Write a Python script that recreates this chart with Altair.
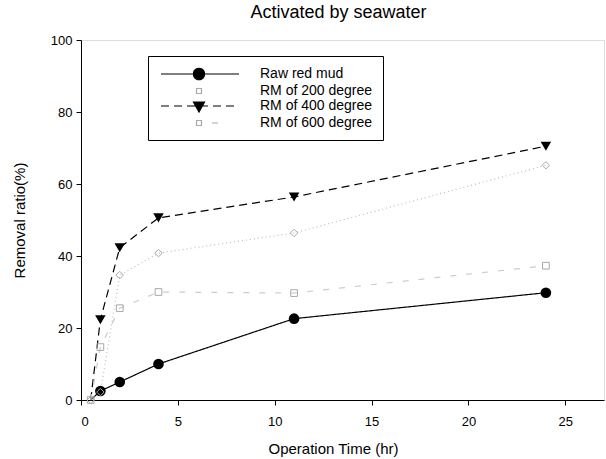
import altair as alt
import pandas as pd

series = ["Raw red mud", "RM of 200 degree", "RM of 400 degree", "RM of 600 degree"]
time_hr = [0.5, 1, 2, 4, 11, 24]
raw = [0, 2.5, 5.0, 10.0, 22.6, 29.8]
rm200 = [0, 2.2, 34.7, 40.8, 46.4, 65.2]
rm400 = [0, 22.3, 42.3, 50.6, 56.4, 70.5]
rm600 = [0, 14.7, 25.5, 30.0, 29.7, 37.3]

x_ticks = [0, 5, 10, 15, 20, 25]
y_ticks = [0, 20, 40, 60, 80, 100]

rows = []
for name, vals in zip(series, [raw, rm200, rm400, rm600]):
    for t, v in zip(time_hr, vals):
        rows.append({"series": name, "time": t, "value": v})
df = pd.DataFrame(rows)

FONT = "Liberation Sans"
BLACK = "#000000"
GRAY_MARK = "#a8a8a8"

# line styles per series (the line layer uses the data-derived, alphabetical domain)
line_color_of = {series[0]: BLACK, series[1]: "#bdbdbd", series[2]: BLACK, series[3]: "#cccccc"}
dash_of = {series[0]: [1, 0], series[1]: [1, 3], series[2]: [8, 5], series[3]: [6, 10]}
sorted_series = sorted(series)

x_enc = alt.X("time:Q", scale=alt.Scale(domain=[0, 27], nice=False),
              axis=alt.Axis(values=x_ticks, title="Operation Time (hr)", grid=False,
                            tickSize=5, labelPadding=10, titlePadding=13,
                            labelFontSize=13, titleFontSize=15, titleFontWeight="normal",
                            domainColor=BLACK, tickColor=BLACK, labelColor=BLACK,
                            titleColor=BLACK, titleX=252))
y_enc = alt.Y("value:Q", scale=alt.Scale(domain=[0, 100], nice=False),
              axis=alt.Axis(values=y_ticks, title="Removal ratio(%)", grid=False,
                            tickSize=5, labelPadding=4, titlePadding=23,
                            labelFontSize=13, titleFontSize=15, titleFontWeight="normal",
                            domainColor=BLACK, tickColor=BLACK, labelColor=BLACK,
                            titleColor=BLACK))

base = alt.Chart(df)

lines = base.mark_line(strokeWidth=1.2).encode(
    x=x_enc, y=y_enc,
    color=alt.Color("series:N", scale=alt.Scale(range=[line_color_of[s] for s in sorted_series]), legend=None),
    strokeDash=alt.StrokeDash("series:N", scale=alt.Scale(range=[dash_of[s] for s in sorted_series]), legend=None),
    detail="series:N",
)

pt_raw = base.transform_filter(
    (alt.datum.series == series[0]) & (alt.datum.time >= 1)
).mark_point(shape="circle", filled=True, size=113, color=BLACK, opacity=1).encode(x="time:Q", y="value:Q")

pt_400 = base.transform_filter(
    (alt.datum.series == series[2]) & (alt.datum.time >= 1)
).mark_point(shape="triangle-down", filled=True, size=110, color=BLACK, opacity=1).encode(x="time:Q", y="value:Q")

pt_200 = base.transform_filter(
    alt.datum.series == series[1]
).mark_point(shape="diamond", filled=False, size=55, stroke=GRAY_MARK, strokeWidth=1, opacity=1).encode(x="time:Q", y="value:Q")

pt_600 = base.transform_filter(
    alt.datum.series == series[3]
).mark_point(shape="square", filled=False, size=45, stroke=GRAY_MARK, strokeWidth=1, opacity=1).encode(x="time:Q", y="value:Q")

# Legend symbols drawn as line + marker paths; 1 unit = 7 px (symbol size 196)
U = 7.0
CX = 165.0  # symbol centre used to convert the legend sketch (px) to symbol units


def u(px):
    return (px - CX) / U


def fmt(v):
    return f"{v:.3f}"


r = 5.5 / U
m = u(198)
circle_path = (f"M{fmt(m - r)},0A{fmt(r)},{fmt(r)},0,1,0,{fmt(m + r)},0"
               f"A{fmt(r)},{fmt(r)},0,1,0,{fmt(m - r)},0Z")
p_raw = f"M{fmt(u(160))},0L{fmt(u(238))},0" + circle_path

s = 2.5 / U
p_200 = f"M{fmt(m - s)},{fmt(-s)}L{fmt(m + s)},{fmt(-s)}L{fmt(m + s)},{fmt(s)}L{fmt(m - s)},{fmt(s)}Z"

dash_starts = [160, 173, 186, 199, 212, 225]
dash400 = "".join(f"M{fmt(u(a))},0L{fmt(u(min(a + 8, 238)))},0" for a in dash_starts)
t = 5.5 / U
p_400 = dash400 + f"M{fmt(m - t)},{fmt(-4 / U)}L{fmt(m + t)},{fmt(-4 / U)}L{fmt(m)},{fmt(6 / U)}Z"

p_600 = p_200 + f"M{fmt(u(211))},0L{fmt(u(217))},0"
legend_paths = [p_raw, p_200, p_400, p_600]

legend_layer = base.mark_point(size=196, strokeWidth=1.2, opacity=0).encode(
    x="time:Q", y="value:Q",
    shape=alt.Shape("series:N", scale=alt.Scale(domain=series, range=legend_paths),
                    legend=alt.Legend(title=None, orient="none", legendX=67, legendY=16,
                                      symbolSize=196, symbolStrokeWidth=1.2, symbolOpacity=1,
                                      labelFontSize=14, labelFont=FONT, labelColor=BLACK,
                                      labelOffset=86, rowPadding=0,
                                      strokeColor=BLACK, padding=10)),
    stroke=alt.Stroke("series:N", scale=alt.Scale(domain=series, range=[BLACK, GRAY_MARK, BLACK, GRAY_MARK])),
    fill=alt.Fill("series:N", scale=alt.Scale(domain=series, range=[BLACK, "white", BLACK, "white"])),
)

chart = alt.layer(lines, pt_raw, pt_400, pt_200, pt_600, legend_layer).properties(
    width=523, height=360,
    title=alt.TitleParams("Activated by seawater", fontSize=18, font=FONT, fontWeight="normal",
                          color=BLACK, anchor="middle", offset=12, dx=-4),
    padding={"left": 81, "top": 40, "right": 2, "bottom": 59},
    autosize=alt.AutoSizeParams(type="none"),
).configure_view(stroke=BLACK, strokeWidth=1).configure(
    font=FONT, background="white"
).configure_axis(labelFont=FONT, titleFont=FONT)

chart.save("out.html", embed_options={"renderer": "svg", "actions": False})
